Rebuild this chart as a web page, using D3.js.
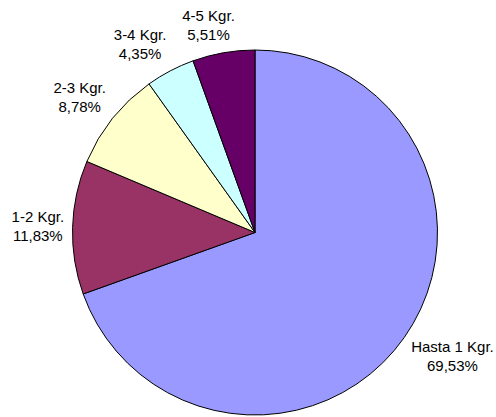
<!DOCTYPE html>
<html><head><meta charset="utf-8">
<script src="https://cdn.jsdelivr.net/npm/d3@7"></script>
<style>html,body{margin:0;padding:0;background:#fff;}svg{display:block;}</style>
</head><body>
<svg id="c" width="496" height="417"></svg>
<script>
const categories = ["Hasta 1 Kgr.", "1-2 Kgr.", "2-3 Kgr.", "3-4 Kgr.", "4-5 Kgr."];
const values = [69.53, 11.83, 8.78, 4.35, 5.51];
const valueLabels = ["69,53%", "11,83%", "8,78%", "4,35%", "5,51%"];
const colors = ["#9999FF", "#993366", "#FFFFCC", "#CCFFFF", "#660066"];

const svg = d3.select("#c");
const cx = 255, cy = 232.5, r = 182.5;
const g = svg.append("g").attr("transform", `translate(${cx},${cy})`);

const pie = d3.pie().sort(null).value(d => d.v);
const data = categories.map((c, i) => ({c, v: values[i], lab: valueLabels[i], col: colors[i]}));
const arcs = pie(data);
const arc = d3.arc().innerRadius(0).outerRadius(r);

g.selectAll("path").data(arcs).join("path")
  .attr("d", arc)
  .attr("fill", d => d.data.col)
  .attr("stroke", "#000")
  .attr("stroke-width", 1)
  .attr("stroke-linejoin", "round");

const fs = 15, lh = 19, off = 8.5;
const lbl = g.selectAll("g.lbl").data(arcs).join("g").attr("class", "lbl");
lbl.each(function(d) {
  const sel = d3.select(this);
  const t = sel.append("text")
    .attr("font-family", "'Liberation Sans', Arial, sans-serif")
    .attr("font-size", fs).attr("fill", "#000").attr("text-anchor", "middle");
  t.append("tspan").attr("x", 0).attr("y", -lh/2).attr("dy", "0.35em").text(d.data.c);
  t.append("tspan").attr("x", 0).attr("y", lh/2).attr("dy", "0.35em").text(d.data.lab);
  const bb = t.node().getBBox();
  const w = bb.width, h = lh * 2;
  const a = (d.startAngle + d.endAngle) / 2;
  const s = Math.sin(a), c = Math.cos(a);
  const px = s * (r + off), py = -c * (r + off);
  const fx = Math.sign(s) * Math.min(1, 3 * Math.abs(s)) * w / 2;
  const fy = -Math.sign(c) * Math.min(1, 1.3 * Math.abs(c)) * h / 2;
  sel.attr("transform", `translate(${px + fx},${py + fy})`);
});
</script>
</body></html>
